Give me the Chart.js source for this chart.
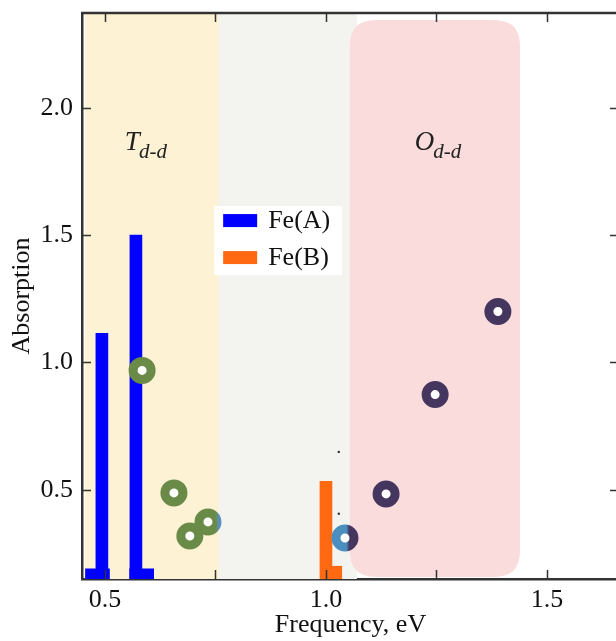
<!DOCTYPE html>
<html lang="en">
<head>
<meta charset="UTF-8">
<title>Absorption vs Frequency</title>
<style>
    html, body { margin: 0; padding: 0; background: #fff; overflow: hidden; }
    #wrap { width: 625px; height: 641px; }
</style>
<script src="https://cdn.jsdelivr.net/npm/chart.js"></script>
</head>
<body>
<div id="wrap"><canvas id="chart" width="625" height="641"></canvas></div>
<script>
// values
const feAX = [0.493, 0.570];
const feAY = [1.114, 1.500];
const feAStepX = [0.483, 0.583];
const feAStepY = [0.19, 0.19];
const feBX = [1.000];
const feBY = [0.533];
const feBStepX = [1.021];
const feBStepY = [0.20];

const tetraX = [0.584, 0.656, 0.692, 0.733];
const tetraY = [0.969, 0.488, 0.319, 0.374];
const mixedX = [1.043];
const mixedY = [0.311];
const octaX = [1.136, 1.247, 1.389];
const octaY = [0.484, 0.874, 1.200];
const specX = [1.029, 1.029];
const specY = [0.649, 0.406];

const xTicks = [0.5, 0.75, 1.0, 1.25, 1.5];
const xLabels = ['0.5', '', '1.0', '', '1.5'];
const yTicks = [0.5, 1.0, 1.5, 2.0];
const yLabels = ['0.5', '1.0', '1.5', '2.0'];

const SERIF = "'Liberation Serif', 'Times New Roman', serif";
const AXIS = '#333';

const pts = (xs, ys) => xs.map((x, i) => ({ x: x, y: ys[i] }));

function roundedRect(ctx, x, y, w, h, r) {
    // r = [tl, tr, br, bl]
    ctx.beginPath();
    ctx.moveTo(x + r[0], y);
    ctx.lineTo(x + w - r[1], y);
    ctx.quadraticCurveTo(x + w, y, x + w, y + r[1]);
    ctx.lineTo(x + w, y + h - r[2]);
    ctx.quadraticCurveTo(x + w, y + h, x + w - r[2], y + h);
    ctx.lineTo(x + r[3], y + h);
    ctx.quadraticCurveTo(x, y + h, x, y + h - r[3]);
    ctx.lineTo(x, y + r[0]);
    ctx.quadraticCurveTo(x, y, x + r[0], y);
    ctx.closePath();
}

// shaded regions behind the data
const bandsPlugin = {
    id: 'bands',
    beforeDatasetsDraw(chart) {
        const { ctx, chartArea: a, scales: { x, y } } = chart;
        const bands = [
            { x0: 0.740, x1: 1.070, y0: 0.10, y1: 2.40, c: '#f3f3ef', r: [14, 14, 0, 0] },
            { x0: 0.455, x1: 0.757, y0: 0.10, y1: 2.40, c: '#fdf3d4', r: [12, 4, 0, 0] },
            { x0: 1.054, x1: 1.439, y0: 0.158, y1: 2.345, c: '#f9dcdb', r: [26, 26, 26, 26] }
        ];
        ctx.save();
        ctx.beginPath();
        ctx.rect(a.left, a.top, a.right - a.left, a.bottom - a.top);
        ctx.clip();
        bands.forEach(b => {
            const px0 = x.getPixelForValue(b.x0), px1 = x.getPixelForValue(b.x1);
            const py1 = y.getPixelForValue(b.y1), py0 = y.getPixelForValue(b.y0);
            ctx.fillStyle = b.c;
            roundedRect(ctx, px0, py1, px1 - px0, py0 - py1, b.r);
            ctx.fill();
        });
        // region labels
        ctx.fillStyle = '#222';
        ctx.textBaseline = 'alphabetic';
        [['T', 0.545], ['O', 1.201]].forEach(([s, xv]) => {
            const px = x.getPixelForValue(xv), py = y.getPixelForValue(1.835);
            ctx.font = 'italic 27px ' + SERIF;
            ctx.fillText(s, px, py);
            const w = ctx.measureText(s).width;
            ctx.font = 'italic 21px ' + SERIF;
            ctx.fillText('d-d', px + w - 1, py + 8);
        });
        ctx.restore();
    }
};

// frame on top/right and inward tick marks on all four sides
const framePlugin = {
    id: 'frame',
    afterDraw(chart) {
        const { ctx, chartArea: a, scales: { x, y } } = chart;
        ctx.save();
        ctx.strokeStyle = AXIS;
        ctx.lineWidth = 2.5;
        ctx.beginPath();
        ctx.moveTo(a.left - 1, a.top);
        ctx.lineTo(a.right, a.top);
        ctx.lineTo(a.right, a.bottom);
        ctx.stroke();
        ctx.lineWidth = 1.5;
        const t = 9;
        ctx.beginPath();
        xTicks.forEach(v => {
            const px = Math.round(x.getPixelForValue(v)) + 0.5;
            ctx.moveTo(px, a.bottom); ctx.lineTo(px, a.bottom - t);
            ctx.moveTo(px, a.top); ctx.lineTo(px, a.top + t);
        });
        yTicks.forEach(v => {
            const py = Math.round(y.getPixelForValue(v)) + 0.5;
            ctx.moveTo(a.left, py); ctx.lineTo(a.left + t, py);
            ctx.moveTo(a.right, py); ctx.lineTo(a.right - t, py);
        });
        ctx.stroke();
        ctx.restore();
    }
};

// legend box inside the plot
const legendPlugin = {
    id: 'boxLegend',
    afterDatasetsDraw(chart) {
        const { ctx, scales: { x, y } } = chart;
        const entries = [chart.data.datasets[0], chart.data.datasets[2]];
        const bx = x.getPixelForValue(0.747), by = y.getPixelForValue(1.614);
        ctx.save();
        ctx.fillStyle = '#fff';
        ctx.fillRect(bx, by, 128, 69);
        ctx.font = '26px ' + SERIF;
        ctx.textBaseline = 'middle';
        entries.forEach((d, i) => {
            const cy = by + 14 + i * 37;
            ctx.fillStyle = d.backgroundColor;
            ctx.fillRect(bx + 9, cy - 6, 34, 13);
            ctx.fillStyle = '#111';
            ctx.fillText(d.label, bx + 54, cy + 1);
        });
        ctx.restore();
    }
};

function ringGradient(ctx, from, to, split) {
    const chart = ctx.chart;
    if (!chart.chartArea || !ctx.raw) return from;
    const px = chart.scales.x.getPixelForValue(ctx.raw.x);
    const g = chart.ctx.createLinearGradient(px - 13, 0, px + 13, 0);
    g.addColorStop(0, from);
    g.addColorStop(split, from);
    g.addColorStop(Math.min(1, split + 0.12), to);
    g.addColorStop(1, to);
    return g;
}

const ring = { pointRadius: 9, pointHoverRadius: 9, pointBorderWidth: 9, pointHoverBorderWidth: 9, pointBackgroundColor: '#fff', showLine: false, order: 0 };

new Chart(document.getElementById('chart'), {
    type: 'bar',
    data: {
        datasets: [
            { label: 'Fe(A)', data: pts(feAX, feAY), backgroundColor: '#0000ff', barThickness: 12, grouped: false, order: 2 },
            { label: 'Fe(A) step', data: pts(feAStepX, feAStepY), backgroundColor: '#0000ff', barThickness: 24, grouped: false, order: 2 },
            { label: 'Fe(B)', data: pts(feBX, feBY), backgroundColor: '#ff6912', barThickness: 12, grouped: false, order: 2 },
            { label: 'Fe(B) step', data: pts(feBStepX, feBStepY), backgroundColor: '#ff6912', barThickness: 13, grouped: false, order: 2 },
            Object.assign({ type: 'scatter', label: 'tetra', data: pts(tetraX, tetraY),
                pointBorderColor: c => c.dataIndex === 3 ? ringGradient(c, '#6a8b47', '#5a8fc0', 0.8) : '#6a8b47' }, ring),
            Object.assign({ type: 'scatter', label: 'mixed', data: pts(mixedX, mixedY),
                pointBorderColor: c => ringGradient(c, '#4b8fc0', '#45365f', 0.55) }, ring),
            Object.assign({ type: 'scatter', label: 'octa', data: pts(octaX, octaY), pointBorderColor: '#45365f' }, ring),
            { type: 'scatter', label: 'spec', data: pts(specX, specY), pointRadius: 1.2, pointBorderWidth: 0, pointBackgroundColor: '#333', order: 0 }
        ]
    },
    options: {
        responsive: false,
        animation: false,
        events: [],
        layout: { autoPadding: false, padding: { top: 13, right: 6, bottom: 0, left: 0 } },
        plugins: { legend: { display: false }, tooltip: { enabled: false } },
        scales: {
            x: {
                type: 'linear',
                min: 0.448,
                max: 1.663,
                offset: false,
                afterBuildTicks: s => { s.ticks = xTicks.map(v => ({ value: v })); },
                afterFit: s => { s.height = 62; s.paddingLeft = 0; s.paddingRight = 0; },
                grid: { display: false, drawTicks: false },
                border: { display: true, color: AXIS, width: 2.5 },
                ticks: {
                    autoSkip: false, maxRotation: 0, padding: 6, color: '#111',
                    font: { family: SERIF, size: 26 },
                    callback: v => xLabels[xTicks.indexOf(v)]
                },
                title: { display: true, text: 'Frequency, eV', color: '#111', font: { family: SERIF, size: 26 }, padding: { top: 0, bottom: 0 } }
            },
            y: {
                min: 0.15,
                max: 2.372,
                afterBuildTicks: s => { s.ticks = yTicks.map(v => ({ value: v })); },
                afterFit: s => { s.width = 82; s.paddingTop = 0; s.paddingBottom = 0; },
                grid: { display: false, drawTicks: false },
                border: { display: true, color: AXIS, width: 2.5 },
                ticks: {
                    autoSkip: false, padding: 9, color: '#111',
                    font: { family: SERIF, size: 26 },
                    callback: v => yLabels[yTicks.indexOf(v)]
                },
                title: { display: true, text: 'Absorption', color: '#111', font: { family: SERIF, size: 26 }, padding: { top: 7, bottom: 0 } }
            }
        }
    },
    plugins: [bandsPlugin, framePlugin, legendPlugin]
});
</script>
</body>
</html>
